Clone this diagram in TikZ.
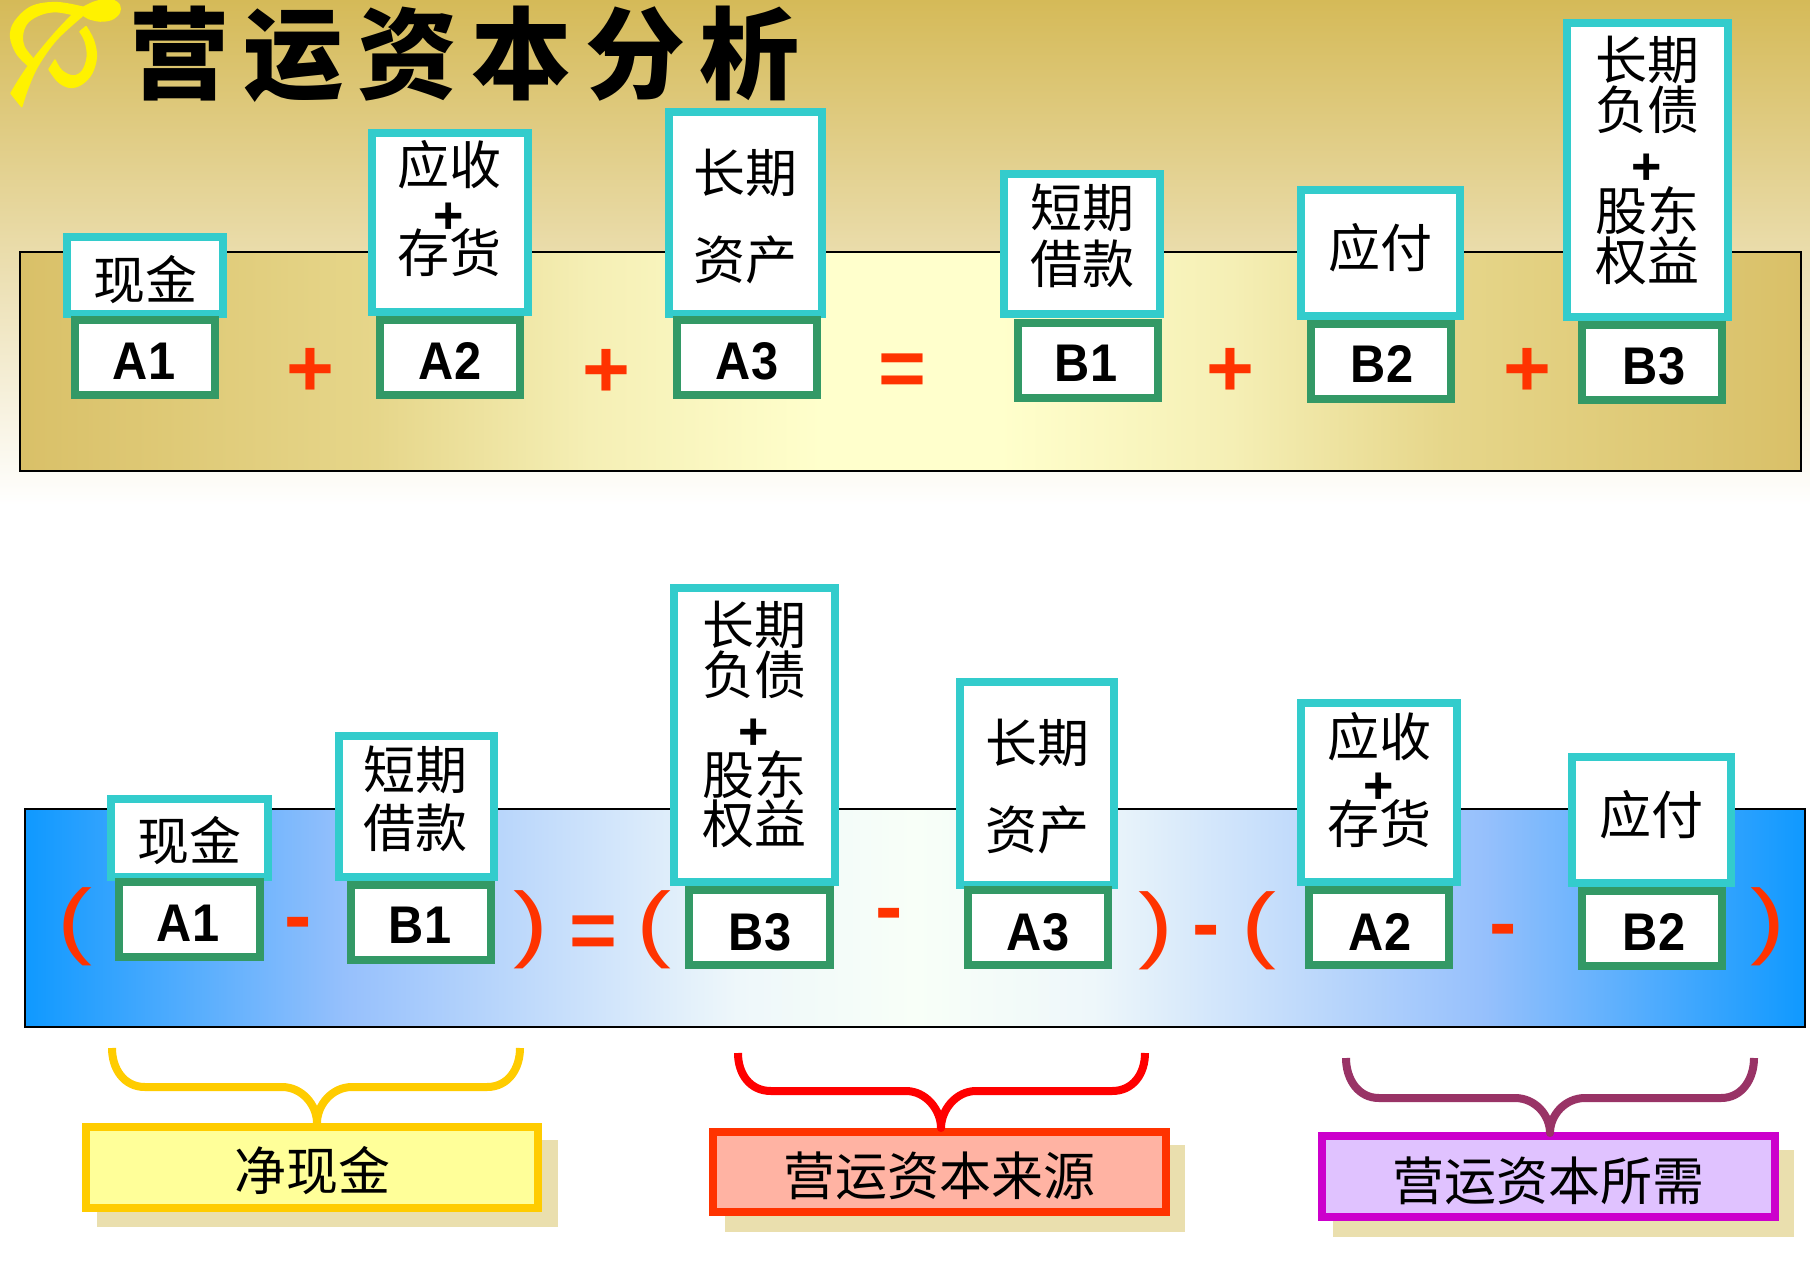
\documentclass[tikz,border=0pt]{standalone}
\usepackage{fontspec}
\setmainfont{Liberation Sans}
\newfontfamily\codefont{Liberation Sans Bold}[FakeStretch=0.92]
\newfontfamily\parenfont{Liberation Sans}[FakeStretch=1.25]
\newfontfamily\cjk{Noto Sans CJK SC}
\newfontfamily\cjkheavy{Noto Sans CJK SC Black}

\definecolor{tealframe}{HTML}{33CCCC}
\definecolor{greenframe}{HTML}{339966}
\definecolor{signred}{HTML}{FF3300}
\definecolor{shadetan}{HTML}{EADFAE}
\definecolor{goldtop}{HTML}{D5BA58}
\definecolor{goldmid}{HTML}{E6D6AE}
\definecolor{goldedge}{HTML}{D9C068}
\definecolor{goldnear}{HTML}{E6D68A}
\definecolor{goldsoft}{HTML}{F5EFB5}
\definecolor{creamcore}{HTML}{FFFFCC}
\definecolor{blueedge}{HTML}{0F99FF}
\definecolor{bluemid}{HTML}{96C0FC}
\definecolor{bluepale}{HTML}{EEF7FA}
\definecolor{bluecore}{HTML}{F8FFF8}
\definecolor{amberline}{HTML}{FFCC00}
\definecolor{amberfill}{HTML}{FFFF99}
\definecolor{salmonfill}{HTML}{FFB3A3}
\definecolor{magentaline}{HTML}{CC00CC}
\definecolor{lilacfill}{HTML}{E0C2FF}
\definecolor{plumline}{HTML}{993366}

\pgfdeclarehorizontalshading{goldpanel}{100bp}{
  color(0bp)=(goldedge); color(25bp)=(goldedge); color(35bp)=(goldnear);
  color(41bp)=(goldsoft); color(47.5bp)=(creamcore); color(52.5bp)=(creamcore);
  color(59bp)=(goldsoft); color(65bp)=(goldnear); color(75bp)=(goldedge); color(100bp)=(goldedge)}
\pgfdeclarehorizontalshading{bluepanel}{100bp}{
  color(0bp)=(blueedge); color(25bp)=(blueedge); color(34bp)=(bluemid);
  color(45bp)=(bluepale); color(50bp)=(bluecore); color(55bp)=(bluepale);
  color(66bp)=(bluemid); color(75bp)=(blueedge); color(100bp)=(blueedge)}

\tikzset{
  framebox/.style={rectangle,line width=8pt,inner sep=0pt,outer sep=0pt},
  tealbox/.style={framebox,draw=tealframe,fill=white},
  greenbox/.style={framebox,draw=greenframe,fill=white},
  cntext/.style={inner sep=0pt,font=\cjk\fontsize{52}{52}\selectfont},
  codetext/.style={inner sep=0pt,font=\codefont\fontsize{53}{53}\selectfont},
  plustext/.style={inner sep=0pt,font=\bfseries\fontsize{52}{52}\selectfont},
  sign/.style={inner sep=0pt,text=signred,font=\bfseries\fontsize{82}{82}\selectfont},
  paren/.style={inner sep=0pt,text=signred,font=\parenfont\fontsize{84}{84}\selectfont},
  brace/.style={line width=8pt,line join=round},
  panel/.style={draw=black,line width=2pt},
  emblem/.style={fill=yellow,draw=yellow,line width=1.5pt,line join=round},
}

% style, name, outer left, top, right, bottom
\newcommand{\frameat}[7]{%
  \node[#1,minimum width={(#5-#3-8)*1pt},minimum height={(#6-#4-8)*1pt}]
    (#2) at ({(#3+#5)/2},{(#4+#6)/2}) {};%
}

\begin{document}
\begin{tikzpicture}[x=1pt,y=-1pt]
\useasboundingbox (0,0) rectangle (1810,1270);
\fill[white] (0,0) rectangle (1810,1270);

% page backdrop fading downwards
\shade[top color=goldtop,middle color=goldmid,bottom color=white] (0,0) rectangle (1810,505);

% emblem beside the heading
\begin{scope}[scale=1/3]
  \path[emblem] plot[smooth,tension=.55] coordinates {(33,280) (62,232) (100,178) (160,105) (220,42) (250,22) (290,4) (335,0) (358,15) (358,38) (335,58) (300,63) (265,55) (250,45)}
    -- plot[smooth,tension=.55] coordinates {(250,45) (170,118) (115,195) (85,260) (65,320)} -- cycle;
  \path[emblem] plot[smooth,tension=.6] coordinates {(250,22) (170,8) (95,20) (45,65) (32,110) (50,160) (85,197)}
    -- plot[smooth,tension=.6] coordinates {(100,177) (72,140) (68,100) (85,65) (125,42) (170,35) (225,45)} -- cycle;
  \path[emblem] plot[smooth,tension=.6] coordinates {(258,80) (280,120) (289,170) (275,220) (245,252) (210,262) (175,245) (147,208)}
    -- plot[smooth,tension=.6] coordinates {(165,180) (185,212) (220,228) (248,212) (262,170) (256,125) (240,95)} -- cycle;
\end{scope}

\node[inner sep=0pt,font=\cjkheavy\fontsize{100}{100}\selectfont] (heading) at (464,54)
  {营\kern14pt运\kern14pt资\kern14pt本\kern14pt分\kern14pt析};

% upper equation panel
\shade[panel,shading=goldpanel] (20,252) rectangle (1801,471);

\frameat{tealbox}{cashTop}{63}{233}{227}{318}{}
\frameat{tealbox}{recvTop}{368}{129}{532}{316}{}
\frameat{tealbox}{fixedTop}{665}{108}{826}{318}{}
\frameat{tealbox}{shortTop}{1000}{170}{1164}{318}{}
\frameat{tealbox}{payTop}{1297}{186}{1464}{320}{}
\frameat{tealbox}{equityTop}{1563}{19}{1732}{321}{}

\frameat{greenbox}{aOneTop}{71}{316}{219}{399}{}
\frameat{greenbox}{aTwoTop}{376}{316}{524}{399}{}
\frameat{greenbox}{aThreeTop}{673}{316}{821}{399}{}
\frameat{greenbox}{bOneTop}{1014}{319}{1162}{402}{}
\frameat{greenbox}{bTwoTop}{1307}{320}{1455}{403}{}
\frameat{greenbox}{bThreeTop}{1578}{321}{1726}{404}{}

\node[cntext] (t1) at (145,280) {现金};
\node[cntext] (t2) at (449,165) {应收};
\node[plustext] (t3) at (449,218) {+};
\node[cntext] (t4) at (449,253) {存货};
\node[cntext] (t5) at (745,173) {长期};
\node[cntext] (t6) at (745,260) {资产};
\node[cntext] (t7) at (1082,208) {短期};
\node[cntext] (t8) at (1082,264) {借款};
\node[cntext] (t9) at (1380,248) {应付};
\node[cntext] (t10) at (1647,60) {长期};
\node[cntext] (t11) at (1647,110) {负债};
\node[plustext] (t12) at (1647,169) {+};
\node[cntext] (t13) at (1647,211) {股东};
\node[cntext] (t14) at (1647,261) {权益};

\node[codetext] (c1) at (144,361) {A1};
\node[codetext] (c2) at (450,361) {A2};
\node[codetext] (c3) at (747,361) {A3};
\node[codetext] (c4) at (1086,363) {B1};
\node[codetext] (c5) at (1382,364) {B2};
\node[codetext] (c6) at (1654,366) {B3};

\node[sign] (s1) at (310,372) {+};
\node[sign] (s2) at (606,373) {+};
\node[sign] (s3) at (902,375) {=};
\node[sign] (s4) at (1230,372) {+};
\node[sign] (s5) at (1527,372) {+};

% lower equation panel
\shade[panel,shading=bluepanel] (25,809) rectangle (1805,1027);

\frameat{tealbox}{cashLow}{107}{795}{272}{881}{}
\frameat{tealbox}{shortLow}{335}{732}{498}{881}{}
\frameat{tealbox}{equityLow}{670}{584}{839}{886}{}
\frameat{tealbox}{fixedLow}{956}{678}{1118}{889}{}
\frameat{tealbox}{recvLow}{1297}{699}{1461}{886}{}
\frameat{tealbox}{payLow}{1568}{753}{1735}{887}{}

\frameat{greenbox}{aOneLow}{115}{878}{264}{961}{}
\frameat{greenbox}{bOneLow}{347}{881}{495}{964}{}
\frameat{greenbox}{bThreeLow}{685}{886}{834}{969}{}
\frameat{greenbox}{aThreeLow}{964}{886}{1112}{969}{}
\frameat{greenbox}{aTwoLow}{1305}{886}{1453}{969}{}
\frameat{greenbox}{bTwoLow}{1578}{887}{1726}{970}{}

\node[cntext] (u1) at (189,841) {现金};
\node[cntext] (u2) at (415,770) {短期};
\node[cntext] (u3) at (415,828) {借款};
\node[cntext] (u4) at (754,625) {长期};
\node[cntext] (u5) at (754,675) {负债};
\node[plustext] (u6) at (754,734) {+};
\node[cntext] (u7) at (754,775) {股东};
\node[cntext] (u8) at (754,824) {权益};
\node[cntext] (u9) at (1037,743) {长期};
\node[cntext] (u10) at (1037,830) {资产};
\node[cntext] (u11) at (1379,737) {应收};
\node[plustext] (u12) at (1379,788) {+};
\node[cntext] (u13) at (1379,824) {存货};
\node[cntext] (u14) at (1651,815) {应付};

\node[codetext] (d1) at (188,923) {A1};
\node[codetext] (d2) at (420,925) {B1};
\node[codetext] (d3) at (760,932) {B3};
\node[codetext] (d4) at (1038,932) {A3};
\node[codetext] (d5) at (1380,932) {A2};
\node[codetext] (d6) at (1654,932) {B2};

\node[paren] (p1) at (75,927) {(};
\node[sign] (p2) at (298,930) {-};
\node[paren] (p3) at (531,930) {)};
\node[sign] (p4) at (593,937) {=};
\node[paren] (p5) at (654,930) {(};
\node[sign] (p6) at (889,921) {-};
\node[paren] (p7) at (1156,931) {)};
\node[sign] (p8) at (1206,938) {-};
\node[paren] (p9) at (1259,931) {(};
\node[sign] (p10) at (1503,937) {-};
\node[paren] (p11) at (1768,927) {)};

% summary labels with their offset shadows
\fill[shadetan] (97,1140) rectangle (558,1227);
\fill[shadetan] (725,1145) rectangle (1185,1232);
\fill[shadetan] (1333,1150) rectangle (1794,1237);

\frameat{framebox,draw=amberline,fill=amberfill}{netCash}{82}{1123}{542}{1212}{}
\frameat{framebox,draw=signred,fill=salmonfill}{wcSource}{709}{1128}{1170}{1216}{}
\frameat{framebox,draw=magentaline,fill=lilacfill}{wcNeed}{1318}{1132}{1779}{1221}{}

\node[cntext] (n1) at (312,1171) {净现金};
\node[cntext] (n2) at (939,1176) {营运资本来源};
\node[cntext] (n3) at (1548,1181) {营运资本所需};

% braces gathering terms into each label
\coordinate (netLeft) at (112,1048);
\coordinate (netRight) at (520,1048);
\draw[brace,draw=amberline]
  (netLeft) .. controls (112,1069) and (124,1087) .. (145,1087) -- (282,1087)
  .. controls (302,1087) and (317,1105) .. (317,1123)
  .. controls (317,1105) and (332,1087) .. (352,1087) -- (487,1087)
  .. controls (508,1087) and (520,1069) .. (netRight);

\coordinate (srcLeft) at (738,1053);
\coordinate (srcRight) at (1145,1053);
\draw[brace,draw=red]
  (srcLeft) .. controls (738,1074) and (750,1091) .. (771,1091) -- (906,1091)
  .. controls (926,1091) and (941,1110) .. (941,1128)
  .. controls (941,1110) and (956,1091) .. (976,1091) -- (1112,1091)
  .. controls (1133,1091) and (1145,1074) .. (srcRight);

\coordinate (needLeft) at (1346,1058);
\coordinate (needRight) at (1754,1058);
\draw[brace,draw=plumline]
  (needLeft) .. controls (1346,1079) and (1358,1098) .. (1379,1098) -- (1515,1098)
  .. controls (1535,1098) and (1550,1115) .. (1550,1133)
  .. controls (1550,1115) and (1565,1098) .. (1585,1098) -- (1721,1098)
  .. controls (1742,1098) and (1754,1079) .. (needRight);
\end{tikzpicture}
\end{document}
